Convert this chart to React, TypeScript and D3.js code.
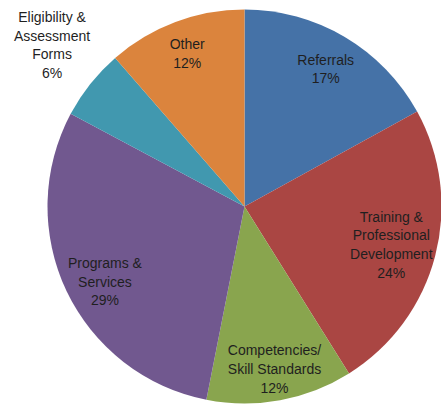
import React from "react";
import * as d3 from "d3";

const categories = ["Referrals", "Training & Professional Development", "Competencies/ Skill Standards", "Programs & Services", "Eligibility & Assessment Forms", "Other"];
const values = [17, 24.1, 12, 29.7, 5.8, 11.4];
const labelLines = [
  ["Referrals", "17%"],
  ["Training &", "Professional", "Development", "24%"],
  ["Competencies/", "Skill Standards", "12%"],
  ["Programs &", "Services", "29%"],
  ["Eligibility &", "Assessment", "Forms", "6%"],
  ["Other", "12%"],
];
const colors = ["#4572A7", "#AA4643", "#89A54E", "#71588F", "#4198AF", "#DB843D"];
const labelRadius = [0.81, 0.77, 0.84, 0.805, 1.275, 0.83];
const labelAngleShift = [0, 0, 0, -0.052, 0.026, 0];

export default function App() {
  const W = 441, H = 407;
  const cx = 244.5, cy = 206.5, r = 197;
  const pie = d3.pie<number>().sort(null).value((d) => d);
  const arcs = pie(values);
  const arc = d3.arc<d3.PieArcDatum<number>>().innerRadius(0).outerRadius(r);
  const lh = 18.7;
  return (
    <svg width={W} height={H} style={{ position: "absolute", left: 0, top: 0, background: "#fff" }}>
      <g transform={`translate(${cx},${cy})`}>
        {arcs.map((a, i) => (
          <path key={categories[i]} d={arc(a) || ""} fill={colors[i]} />
        ))}
        {arcs.map((a, i) => {
          const mid = (a.startAngle + a.endAngle) / 2 + labelAngleShift[i];
          const rho = r * labelRadius[i];
          const x = rho * Math.sin(mid);
          const y = -rho * Math.cos(mid);
          const lines = labelLines[i];
          const y0 = y - ((lines.length - 1) * lh) / 2;
          return (
            <text key={"l" + i} x={x} textAnchor="middle" fontFamily="'Liberation Sans', Arial, sans-serif" fontSize={14} fill="#1f1f1f">
              {lines.map((t, j) => (
                <tspan key={j} x={x} y={y0 + j * lh} dy="0.35em">{t}</tspan>
              ))}
            </text>
          );
        })}
      </g>
    </svg>
  );
}
